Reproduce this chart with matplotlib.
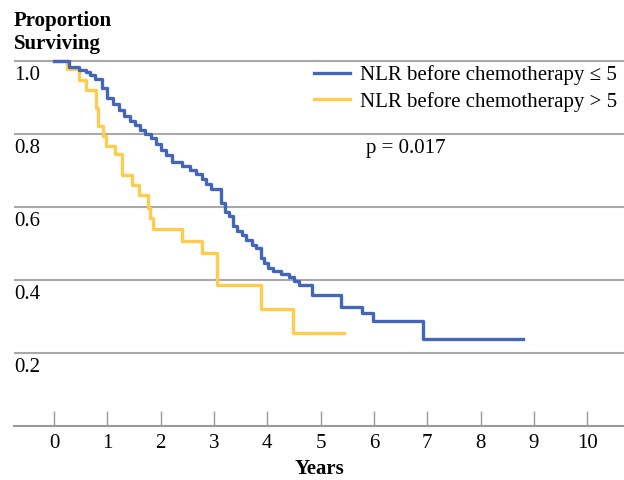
import numpy as np
import matplotlib.pyplot as plt
from matplotlib import transforms

# Kaplan-Meier step points (time in years, survival after the drop)
low_t = [0, 0.29, 0.46, 0.60, 0.68, 0.77, 0.90, 1.00, 1.11, 1.21, 1.31, 1.43, 1.52,
         1.61, 1.71, 1.81, 1.92, 2.00, 2.10, 2.21, 2.40, 2.55, 2.66, 2.77, 2.86,
         2.95, 3.13, 3.21, 3.29, 3.35, 3.43, 3.52, 3.60, 3.71, 3.79, 3.88, 3.94,
         4.02, 4.11, 4.25, 4.40, 4.50, 4.60, 4.83, 5.39, 5.77, 5.99, 6.92, 8.80]
low_s = [1.0, 0.983, 0.976, 0.970, 0.963, 0.951, 0.925, 0.900, 0.883, 0.867, 0.848,
         0.836, 0.824, 0.812, 0.799, 0.788, 0.772, 0.755, 0.743, 0.722, 0.711, 0.701,
         0.690, 0.678, 0.664, 0.650, 0.610, 0.586, 0.574, 0.549, 0.533, 0.523, 0.510,
         0.496, 0.487, 0.460, 0.446, 0.433, 0.426, 0.417, 0.408, 0.396, 0.386, 0.359,
         0.327, 0.310, 0.288, 0.238, 0.238]

high_t = [0, 0.25, 0.47, 0.60, 0.79, 0.82, 0.92, 0.98, 1.14, 1.28, 1.46, 1.60, 1.77,
          1.80, 1.86, 2.40, 2.78, 3.05, 3.88, 4.49, 5.43]
high_s = [1.0, 0.977, 0.948, 0.921, 0.872, 0.823, 0.794, 0.768, 0.744, 0.689, 0.660,
          0.633, 0.598, 0.571, 0.541, 0.508, 0.473, 0.385, 0.321, 0.256, 0.256]

labels = ['NLR before chemotherapy \u2264 5', 'NLR before chemotherapy > 5']
y_ticks = [1.0, 0.8, 0.6, 0.4, 0.2]
x_ticks = list(range(0, 11))

blue = '#4466b8'
yellow = '#ffcc4d'
grid_c = '#a8a8a8'

plt.rcParams['font.family'] = ['Liberation Serif', 'DejaVu Serif']
plt.rcParams['font.size'] = 15

fig = plt.figure(figsize=(6.24, 4.8), dpi=100)
ax = fig.add_axes([14 / 624, 1 - 426 / 480, 1 - 14 / 624, (426 - 57.35) / 480])
ax.set_xlim(-0.75, 10.69)
ax.set_ylim(0, 1.01)

for v in y_ticks:
    ax.axhline(v, color=grid_c, lw=1.5, zorder=1)

l2, = ax.step(high_t, high_s, where='post', color=yellow, lw=2.4, zorder=2)
l1, = ax.step(low_t, low_s, where='post', color=blue, lw=2.4, zorder=3)

for s in ['top', 'right', 'left']:
    ax.spines[s].set_visible(False)
ax.spines['bottom'].set_color('#999999')
ax.spines['bottom'].set_linewidth(1.5)

ax.set_yticks([])
ax.set_xticks(x_ticks)
ax.tick_params(axis='x', direction='in', length=11, width=1, color='#999999',
               pad=6, labelsize=15)

tr = transforms.blended_transform_factory(ax.transAxes, ax.transData)
for v in y_ticks:
    ax.text(0, v - 0.015, '%.1f' % v, transform=tr, ha='left', va='top', fontsize=15)

fig.text(14 / 624, 1 - 11 / 480, 'Proportion\nSurviving', ha='left', va='top',
         fontsize=15, fontweight='bold', linespacing=1.2)
ax.set_xlabel('Years', fontsize=15, fontweight='bold', labelpad=4)

ax.legend([l1, l2], labels, loc='upper left', bbox_to_anchor=(314 / 624, 1 - 65 / 480),
          bbox_transform=fig.transFigure, frameon=False, fontsize=15,
          handlelength=1.75, handletextpad=0.45, labelspacing=0.33, borderaxespad=0,
          borderpad=0)
ax.text(366 / 624, 1 - 148 / 480, 'p = 0.017', transform=fig.transFigure,
        ha='left', va='center', fontsize=15)

fig.savefig('out.png', dpi=100)
